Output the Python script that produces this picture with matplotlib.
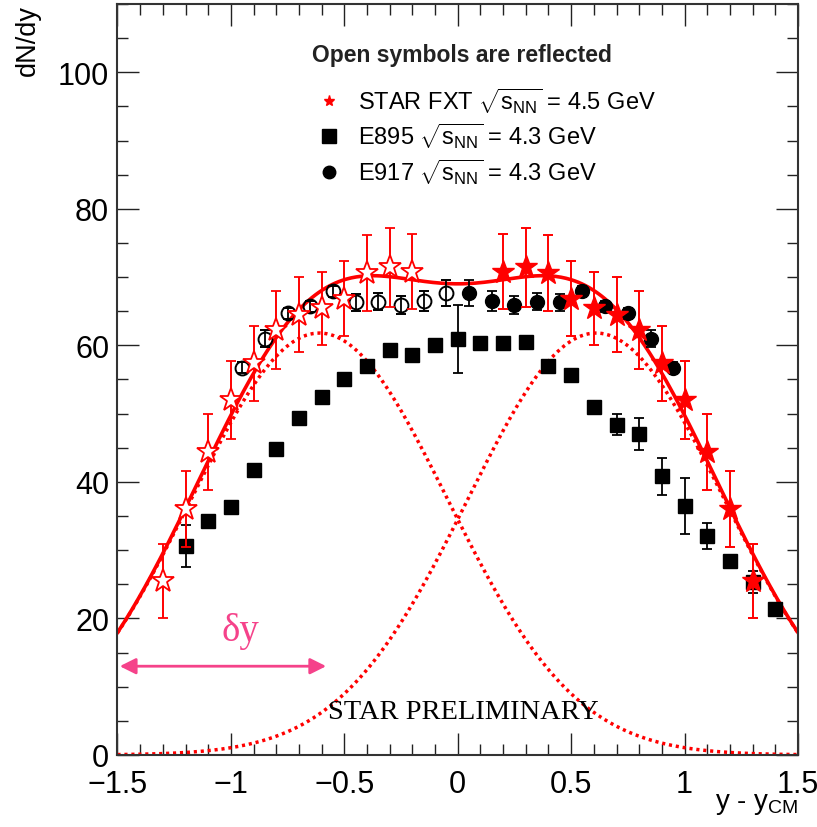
"""dN/dy vs rapidity: STAR FXT compared to E895 / E917, with double-Gaussian fit."""
import numpy as np
import matplotlib
matplotlib.use('Agg')
import matplotlib.pyplot as plt
from matplotlib.lines import Line2D
from matplotlib.ticker import MultipleLocator

plt.rcParams['font.family'] = ['Liberation Sans', 'DejaVu Sans']
plt.rcParams['mathtext.fontset'] = 'custom'
plt.rcParams['mathtext.rm'] = 'Liberation Sans'
plt.rcParams['mathtext.it'] = 'Liberation Sans:italic'

# ============== DATA ==============
# STAR FXT sqrt(sNN)=4.5 GeV, measured half (filled); open symbols are the reflection
STAR_Y = [0.2, 0.3, 0.4, 0.5, 0.6, 0.7, 0.8, 0.9, 1.0, 1.1, 1.2, 1.3]
STAR_DNDY = [70.8, 71.4, 70.6, 66.8, 65.4, 64.5, 62.3, 57.4, 52.0, 44.4, 36.0, 25.5]
STAR_ERR = [5.5, 5.8, 5.5, 5.5, 5.4, 5.5, 5.7, 5.5, 5.7, 5.6, 5.6, 5.4]

# E917 sqrt(sNN)=4.3 GeV
E917_Y = [0.05, 0.15, 0.25, 0.35, 0.45, 0.55, 0.65, 0.75, 0.85, 0.95]
E917_DNDY = [67.6, 66.5, 65.9, 66.4, 66.3, 67.9, 65.7, 64.7, 61.0, 56.7]
E917_ERR = [1.9, 1.5, 1.3, 1.2, 1.2, 0.8, 0.8, 0.8, 1.2, 0.8]

# E895 sqrt(sNN)=4.3 GeV (both sides measured)
E895_Y = [-1.2, -1.1, -1.0, -0.9, -0.8, -0.7, -0.6, -0.5, -0.4, -0.3, -0.2, -0.1, 0.0,
          0.1, 0.2, 0.3, 0.4, 0.5, 0.6, 0.7, 0.8, 0.9, 1.0, 1.1, 1.2, 1.3, 1.4]
E895_DNDY = [30.6, 34.3, 36.3, 41.7, 44.8, 49.3, 52.5, 55.0, 57.0, 59.3, 58.6, 60.1, 60.9,
             60.3, 60.3, 60.5, 57.0, 55.6, 51.0, 48.4, 47.0, 40.8, 36.4, 32.1, 28.4, 25.3, 21.4]
E895_ERR = [3.1, 0.5, 0.5, 0.5, 0.5, 0.5, 0.5, 0.5, 0.5, 0.5, 0.5, 0.5, 5.0,
            0.5, 0.5, 0.5, 0.5, 0.5, 0.5, 1.5, 2.3, 2.7, 4.1, 1.9, 0.8, 1.6, 0.8]

# double-Gaussian fit parameters: amplitude, centre (+/-), width
FIT_AMP = 61.8
FIT_MU = 0.61
FIT_SIGMA = 0.565
# ========================================================

RED = '#ff0000'
PINK = '#f5428a'


def gauss(x, mu):
    return FIT_AMP * np.exp(-(x - mu) ** 2 / (2 * FIT_SIGMA ** 2))


def setup_axis(ax):
    ax.set_xlim(-1.5, 1.5)
    ax.set_ylim(0, 110)
    ax.xaxis.set_major_locator(MultipleLocator(0.5))
    ax.xaxis.set_minor_locator(MultipleLocator(0.1))
    ax.yaxis.set_major_locator(MultipleLocator(20))
    ax.yaxis.set_minor_locator(MultipleLocator(5))
    ax.tick_params(which='both', direction='in', top=True, right=True, width=1.0,
                   labelsize=22, color='#222222')
    ax.tick_params(which='major', length=15.5)
    ax.tick_params(which='minor', length=8)
    ax.tick_params(axis='x', pad=10)
    ax.tick_params(axis='y', pad=6)
    ax.set_xticks([-1.5, -1, -0.5, 0, 0.5, 1, 1.5])
    ax.set_xticklabels(['\u22121.5', '\u22121', '\u22120.5', '0', '0.5', '1', '1.5'])
    for sp in ax.spines.values():
        sp.set_linewidth(1.5)
        sp.set_color('#333333')


fig = plt.figure(figsize=(8.17, 8.28), dpi=100)
ax = fig.add_axes([0.1438, 0.0870, 0.8329, 0.9070])

# fit curves
yy = np.linspace(-1.5, 1.5, 400)
g_left = gauss(yy, -FIT_MU)
g_right = gauss(yy, FIT_MU)
ax.plot(yy, g_left, color=RED, lw=2.5, ls=(0, (0.9, 1.1)), zorder=2)
ax.plot(yy, g_right, color=RED, lw=2.5, ls=(0, (0.9, 1.1)), zorder=2)
ax.plot(yy, g_left + g_right, color=RED, lw=2.6, zorder=2)

# E895 squares
ax.errorbar(E895_Y, E895_DNDY, yerr=E895_ERR, fmt='s', ms=10, color='black',
            ecolor='black', elinewidth=1.3, capsize=3.5, capthick=1.3, zorder=3)

# E917 circles: measured (filled) and reflected (open)
e917_y = np.array(E917_Y)
ax.errorbar(e917_y, E917_DNDY, yerr=E917_ERR, fmt='o', ms=10, color='black',
            ecolor='black', elinewidth=1.3, capsize=3.5, capthick=1.3, zorder=3)
ax.errorbar(-e917_y, E917_DNDY, yerr=E917_ERR, fmt='o', ms=10, mfc='none', mec='black',
            mew=1.4, ecolor='black', elinewidth=1.3, capsize=3.5, capthick=1.3, zorder=3)

# STAR FXT stars: measured (filled) and reflected (open)
star_y = np.array(STAR_Y)
ax.errorbar(star_y, STAR_DNDY, yerr=STAR_ERR, fmt='*', ms=17, color=RED,
            ecolor=RED, elinewidth=1.4, capsize=3.5, capthick=1.4, zorder=4)
ax.errorbar(-star_y, STAR_DNDY, yerr=STAR_ERR, fmt='*', ms=17, mfc='white', mec=RED,
            mew=1.3, ecolor=RED, elinewidth=1.4, capsize=3.5, capthick=1.4, zorder=4)

setup_axis(ax)

# axis titles, ROOT style
ax.text(-0.1315, 1.0, 'dN/dy', rotation=90, ha='center', va='top', fontsize=19.5,
        transform=ax.transAxes)
ax.text(1.0, -0.071, r'y - y$_{\mathrm{CM}}$', ha='right', va='baseline', fontsize=20,
        transform=ax.transAxes)

# legend
ax.text(0.506, 0.933, 'Open symbols are reflected', ha='center', va='center',
        fontsize=16.5, fontweight='bold', color='#222222', transform=ax.transAxes)
handles = [
    Line2D([0], [0], marker='*', color=RED, ls='', ms=8,
           label=r'STAR FXT $\sqrt{\mathrm{s}_{\mathrm{NN}}}$ = 4.5 GeV'),
    Line2D([0], [0], marker='s', color='black', ls='', ms=10,
           label=r'E895 $\sqrt{\mathrm{s}_{\mathrm{NN}}}$ = 4.3 GeV'),
    Line2D([0], [0], marker='o', color='black', ls='', ms=9,
           label=r'E917 $\sqrt{\mathrm{s}_{\mathrm{NN}}}$ = 4.3 GeV'),
]
ax.legend(handles=handles, loc='upper left', bbox_to_anchor=(0.276, 0.907), frameon=False,
          fontsize=17, handlelength=1.0, handletextpad=0.75, labelspacing=0.25, borderpad=0)

# delta-y arrow and label
ax.annotate('', xy=(-1.49, 13.0), xytext=(-0.58, 13.0),
            arrowprops=dict(arrowstyle='<|-|>', color=PINK, lw=2, mutation_scale=24,
                            shrinkA=0, shrinkB=0))
ax.text(-0.96, 18.2, '\u03b4y', ha='center', va='center', fontsize=28, color=PINK,
        family='Liberation Serif')

ax.text(0.023, 6.4, 'STAR PRELIMINARY', ha='center', va='center', fontsize=20.5,
        family='Liberation Serif')

fig.savefig('out.png', dpi=100)
